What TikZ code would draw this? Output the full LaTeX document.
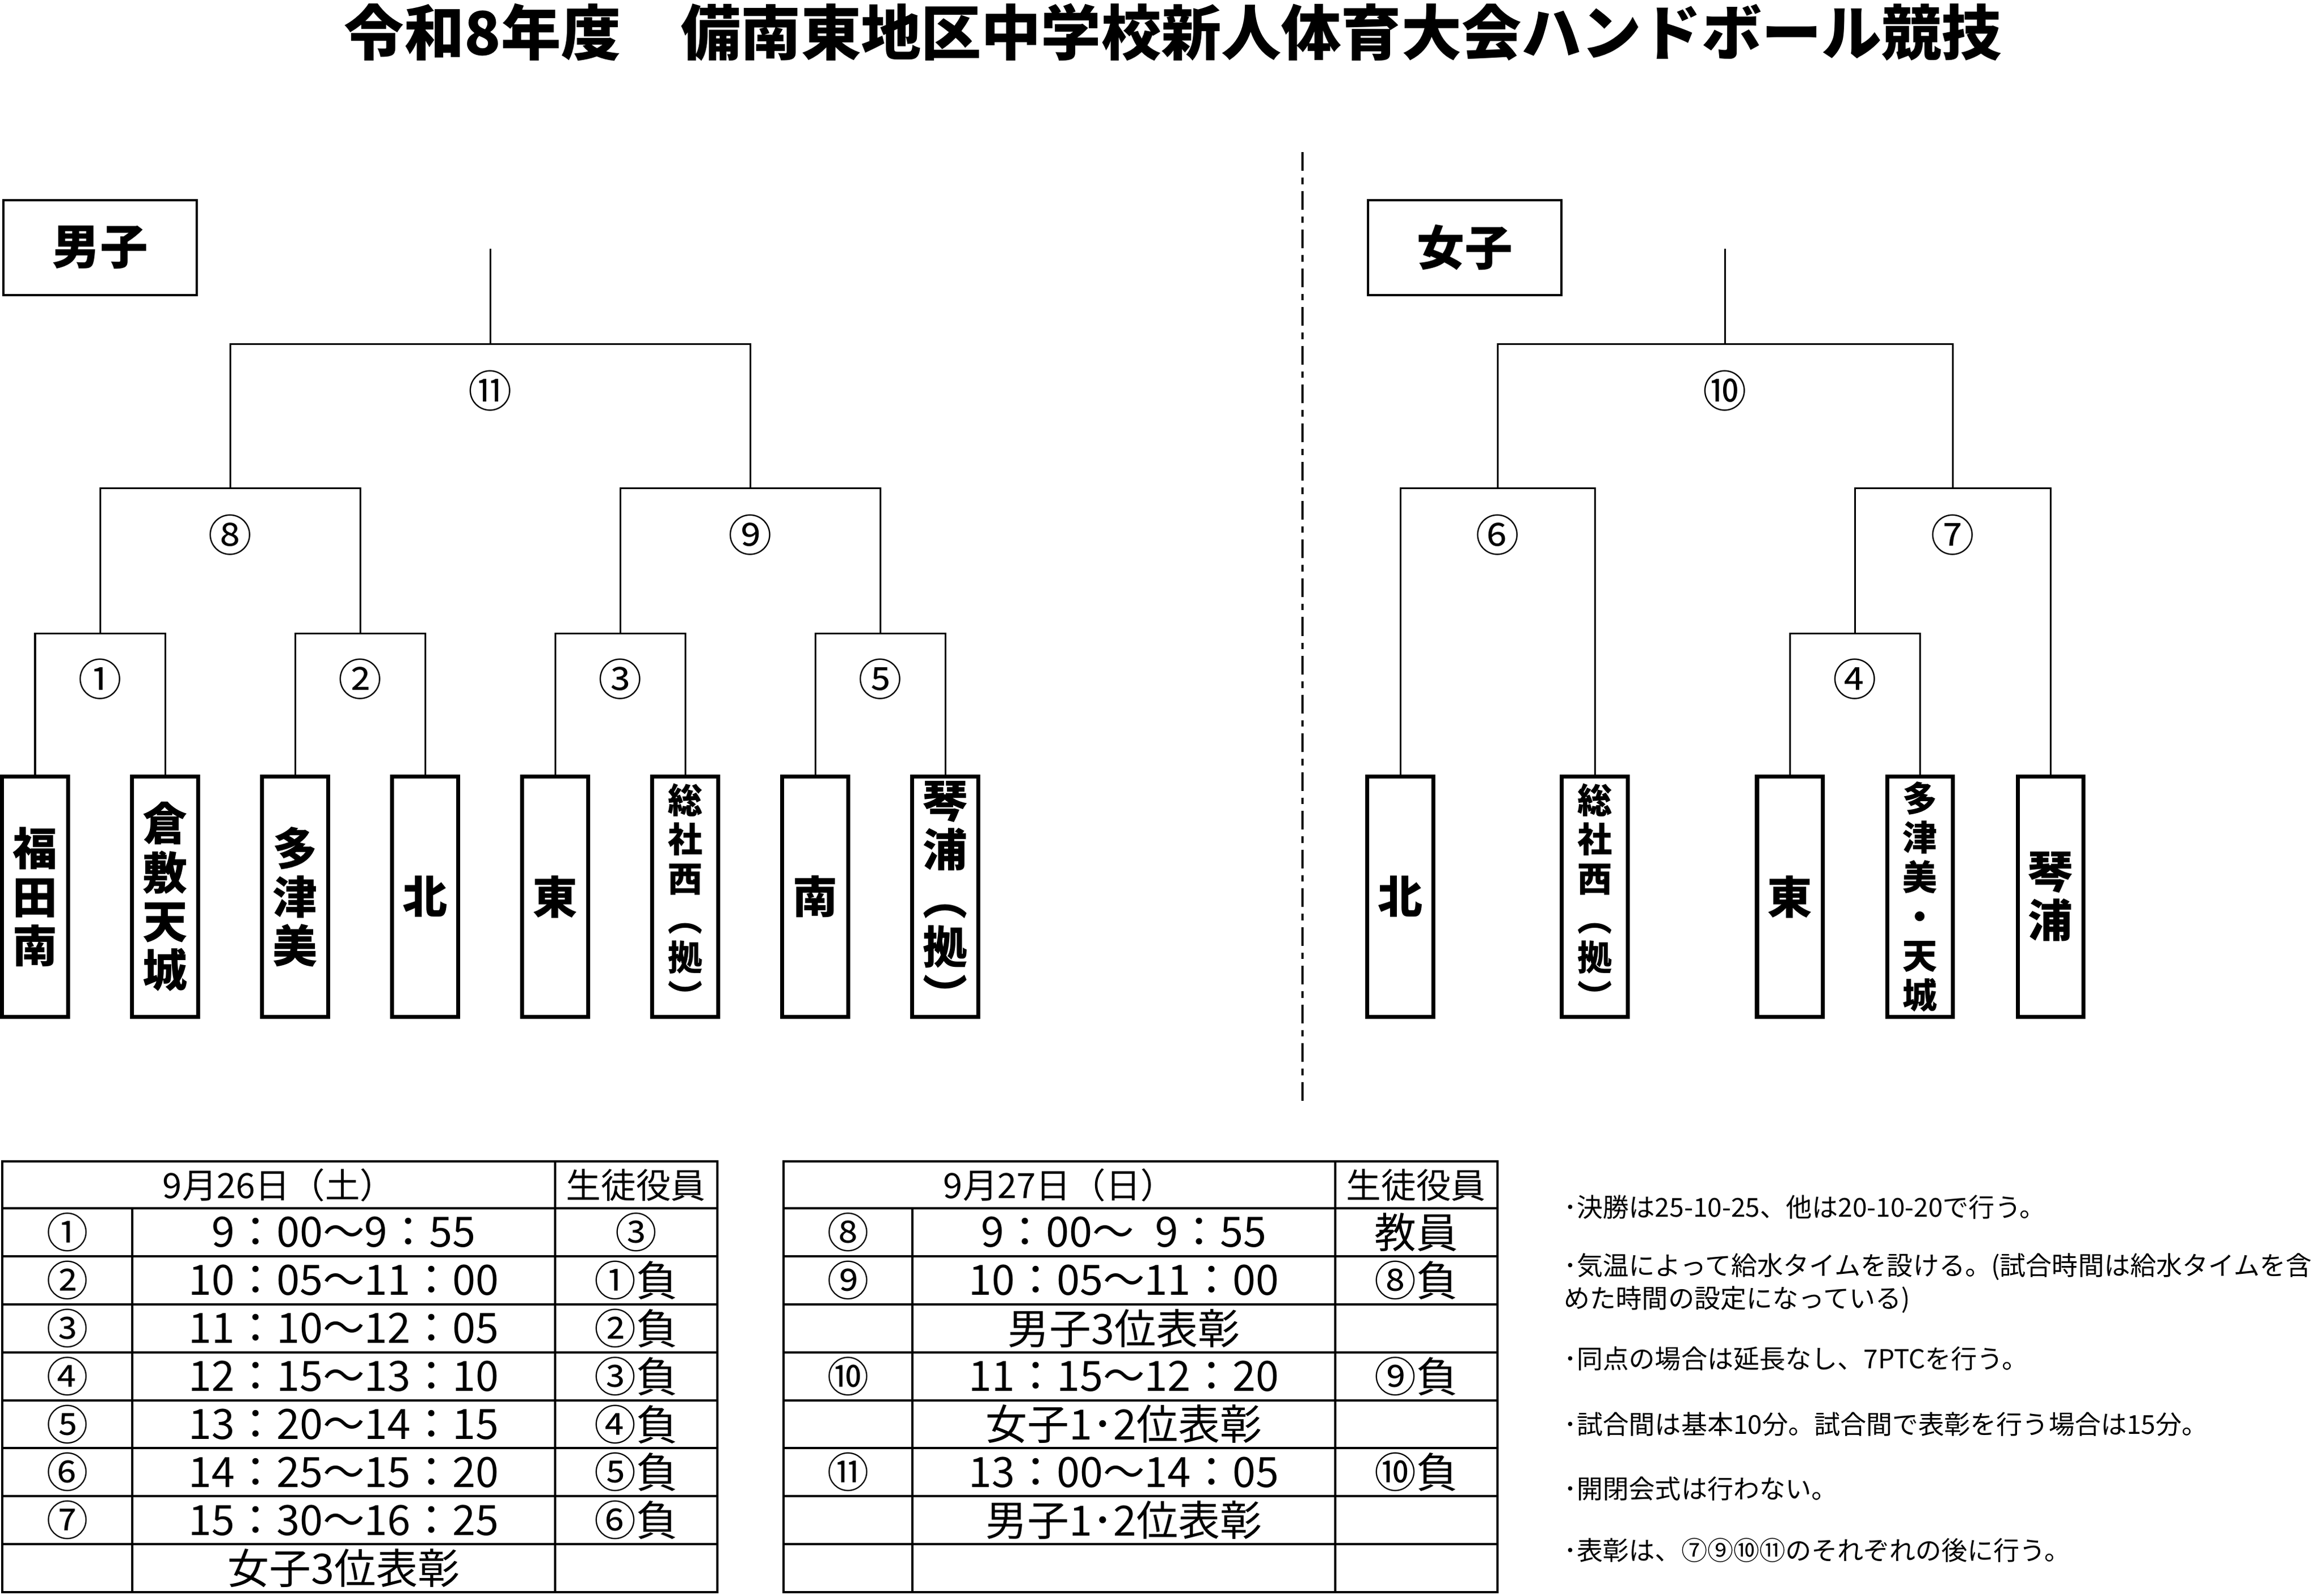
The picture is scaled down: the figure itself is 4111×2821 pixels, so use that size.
\documentclass[tikz,border=0pt]{standalone}
\usepackage{fontspec}
\setmainfont{Noto Sans CJK JP}

\begin{document}
\begin{tikzpicture}[x=0.01cm,y=-0.01cm,
    team/.style={draw,line width=0.7mm,minimum width=11.6mm,minimum height=42.5mm,inner sep=0pt,align=center,font=\bfseries\fontsize{22.5}{24.5}\selectfont},
    smallteam/.style={font=\bfseries\fontsize{17.5}{19.8}\selectfont},
    sexbox/.style={draw,line width=0.35mm,minimum width=34.2mm,minimum height=16.8mm,font=\bfseries\fontsize{24}{28}\selectfont},
    wire/.style={line width=0.3mm},
    gamelbl/.style={inner sep=0pt,font=\fontsize{22}{26}\selectfont},
    grid/.style={line width=0.4mm},
    cell/.style={inner sep=0pt,font=\fontsize{21}{25}\selectfont},
    headcell/.style={inner sep=0pt,font=\fontsize{17.5}{20}\selectfont},
    note/.style={anchor=west,inner sep=0pt,font=\fontsize{13.1}{16}\selectfont}]
  \useasboundingbox (0,0) rectangle (4111,2821);

  \node[font=\bfseries\fontsize{30.2}{34}\selectfont] (title) at (2075,57) {令和8年度　備南東地区中学校新人体育大会ハンドボール競技};

  % divider
  \coordinate (dv1) at (2304,269);
  \coordinate (dv2) at (2304,1953);
  \draw[line width=0.35mm,dash pattern=on 3.3mm off 1.2mm on 1.15mm off 1.2mm] (dv1) -- (dv2);

  \node[sexbox] (boys) at (177,438) {男子};
  \node[sexbox] (girls) at (2591,438) {女子};

  % boys
  \node[team] (b1) at (62,1586) {福\\田\\南};
  \node[team] (b2) at (292,1586) {倉\\敷\\天\\城};
  \node[team] (b3) at (522,1586) {多\\津\\美};
  \node[team] (b4) at (752,1586) {北};
  \node[team] (b5) at (982,1586) {東};
  \node[team,smallteam] (b6) at (1212,1586) {総\\社\\西\\︵\\拠\\︶};
  \node[team] (b7) at (1442,1586) {南};
  \node[team] (b8) at (1672,1586) {琴\\浦\\︵\\拠\\︶};
  \coordinate (g1) at (177,1120);
  \coordinate (g2) at (637,1120);
  \coordinate (g3) at (1097,1120);
  \coordinate (g5) at (1557,1120);
  \coordinate (g8) at (407,863);
  \coordinate (g9) at (1327,863);
  \coordinate (g11) at (867,608);
  \coordinate (f11) at (867,440);
  \begin{scope}[wire]
    \draw (b1.north) |- (g1) -| (b2.north);
    \draw (b3.north) |- (g2) -| (b4.north);
    \draw (b5.north) |- (g3) -| (b6.north);
    \draw (b7.north) |- (g5) -| (b8.north);
    \draw (g1) |- (g8) -| (g2);
    \draw (g3) |- (g9) -| (g5);
    \draw (g8) |- (g11) -| (g9);
    \draw (g11) -- (f11);
  \end{scope}
  \node[gamelbl] (l1) at (177,1201) {①};
  \node[gamelbl] (l2) at (637,1201) {②};
  \node[gamelbl] (l3) at (1097,1201) {③};
  \node[gamelbl] (l5) at (1557,1201) {⑤};
  \node[gamelbl] (l8) at (407,946) {⑧};
  \node[gamelbl] (l9) at (1327,946) {⑨};
  \node[gamelbl] (l11) at (867,691) {⑪};

  % girls
  \node[team] (w1) at (2477,1586) {北};
  \node[team,smallteam] (w2) at (2821,1586) {総\\社\\西\\︵\\拠\\︶};
  \node[team] (w3) at (3166,1586) {東};
  \node[team,smallteam] (w4) at (3396,1586) {多\\津\\美\\・\\天\\城};
  \node[team] (w5) at (3627,1586) {琴\\浦};
  \coordinate (g4) at (3281,1120);
  \coordinate (g6) at (2649,863);
  \coordinate (g7) at (3454,863);
  \coordinate (g10) at (3051,608);
  \coordinate (f10) at (3051,440);
  \begin{scope}[wire]
    \draw (w1.north) |- (g6) -| (w2.north);
    \draw (w3.north) |- (g4) -| (w4.north);
    \draw (g4) |- (g7) -| (w5.north);
    \draw (g6) |- (g10) -| (g7);
    \draw (g10) -- (f10);
  \end{scope}
  \node[gamelbl] (l4) at (3281,1201) {④};
  \node[gamelbl] (l6) at (2649,946) {⑥};
  \node[gamelbl] (l7) at (3454,946) {⑦};
  \node[gamelbl] (l10) at (3051,691) {⑩};

  % schedule, day 1
  \begin{scope}[grid]
    \draw (4,2054) rectangle (1269,2816);
    \foreach \k in {0,...,7} \draw (4,{2137+84.875*\k}) -- (1269,{2137+84.875*\k});
    \draw (982,2054) -- (982,2816);
    \draw (234,2137) -- (234,2816);
  \end{scope}
  \node[headcell] (d1) at (493,2096) {9月26日（土）};
  \node[headcell] (s1) at (1125,2096) {生徒役員};
  \foreach \a/\t/\r [count=\i] in {①/9：00～9：55/③, ②/10：05～11：00/①負, ③/11：10～12：05/②負,
      ④/12：15～13：10/③負, ⑤/13：20～14：15/④負, ⑥/14：25～15：20/⑤負, ⑦/15：30～16：25/⑥負, /女子3位表彰/} {
    \node[cell] (a\i) at (119,{2137+84.875*(\i-0.5)}) {\a};
    \node[cell] (t\i) at (608,{2137+84.875*(\i-0.5)}) {\t};
    \node[cell] (r\i) at (1125,{2137+84.875*(\i-0.5)}) {\r};
  }

  % schedule, day 2
  \begin{scope}[grid]
    \draw (1386,2054) rectangle (2649,2816);
    \foreach \k in {0,...,7} \draw (1386,{2137+84.875*\k}) -- (2649,{2137+84.875*\k});
    \draw (2362,2054) -- (2362,2816);
    \draw (1614,2137) -- (1614,2816);
  \end{scope}
  \node[headcell] (d2) at (1874,2096) {9月27日（日）};
  \node[headcell] (s2) at (2505,2096) {生徒役員};
  \foreach \a/\t/\r [count=\i] in {⑧/9：00～\enspace 9：55/教員, ⑨/10：05～11：00/⑧負, /男子3位表彰/,
      ⑩/11：15～12：20/⑨負, /女子1･2位表彰/, ⑪/13：00～14：05/⑩負, /男子1･2位表彰/} {
    \node[cell] (p\i) at (1500,{2137+84.875*(\i-0.5)}) {\a};
    \node[cell] (q\i) at (1988,{2137+84.875*(\i-0.5)}) {\t};
    \node[cell] (u\i) at (2505,{2137+84.875*(\i-0.5)}) {\r};
  }

  % notes
  \node[note] (note1) at (2766,2135) {･決勝は25-10-25、他は20-10-20で行う。};
  \node[note] (note2) at (2766,2241) {･気温によって給水タイムを設ける。(試合時間は給水タイムを含};
  \node[note] (note3) at (2766,2299) {めた時間の設定になっている)};
  \node[note] (note4) at (2766,2403) {･同点の場合は延長なし、7PTCを行う。};
  \node[note] (note5) at (2766,2519) {･試合間は基本10分。試合間で表彰を行う場合は15分。};
  \node[note] (note6) at (2766,2633) {･開閉会式は行わない。};
  \node[note] (note7) at (2766,2742) {･表彰は、⑦⑨⑩⑪のそれぞれの後に行う。};
\end{tikzpicture}
\end{document}
